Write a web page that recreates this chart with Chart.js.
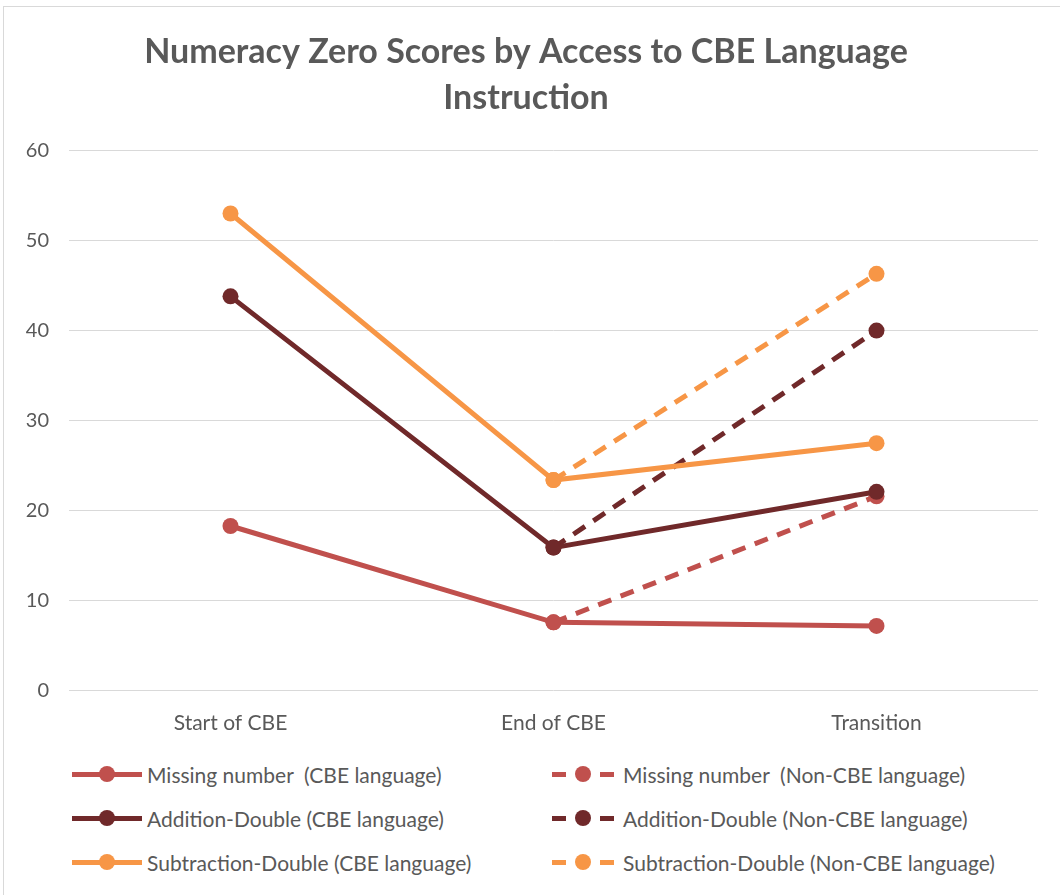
<!DOCTYPE html>
<html>
<head>
<meta charset="utf-8">
<script src="https://cdn.jsdelivr.net/npm/chart.js@4"></script>
<style>
  body { margin: 0; background: #fff; font-family: Lato, "Open Sans", sans-serif; }
  #frame { position: absolute; left: 3px; top: 6px; width: 1060px; height: 900px; border: 1px solid #d9d9d9; }
  #wrap { position: absolute; left: 0; top: 0; width: 1057px; height: 755px; }
  #legend { position: absolute; left: 0; top: 0; }
  .item { position: absolute; height: 24px; display: flex; align-items: center; color: #595959; font-size: 21px; white-space: pre; }
  .sample { position: relative; width: 70px; height: 24px; margin-right: 5px; }
  .seg { position: absolute; top: 10px; height: 5px; }
  .dot { position: absolute; left: 27px; top: 4px; width: 16px; height: 16px; border-radius: 50%; }
</style>
</head>
<body>
<div id="frame">
  <div id="wrap"><canvas id="chart"></canvas></div>
  <div id="legend"></div>
</div>
<script>
console.log("chart loaded");

const categories = ["Start of CBE", "End of CBE", "Transition"];
const missingCbe = [18.3, 7.6, 7.2];
const missingNonCbe = [null, 7.6, 21.6];
const additionCbe = [43.8, 15.9, 22.1];
const additionNonCbe = [null, 15.9, 40.0];
const subtractionCbe = [53.0, 23.4, 27.5];
const subtractionNonCbe = [null, 23.4, 46.3];
const yTicks = [0, 10, 20, 30, 40, 50, 60];

const textColor = "#595959";
const gridColor = "#d9d9d9";

function getColorHex(name) {
    const map = {
        missing: "#C0504D",
        addition: "#70292A",
        subtraction: "#F79646"
    };
    return map[name] || "#cccccc";
}

function makeSeries(label, values, color, dashed) {
    return {
        label: label,
        data: values,
        borderColor: color,
        backgroundColor: color,
        borderWidth: 5,
        borderDash: dashed ? [14, 10] : [],
        pointRadius: 8,
        pointHoverRadius: 8,
        pointBorderWidth: 0,
        pointBackgroundColor: color,
        spanGaps: false,
        tension: 0,
        order: dashed ? 2 : 1,
        dashed: dashed
    };
}

const datasets = [
    makeSeries("Missing number  (CBE language)", missingCbe, getColorHex("missing"), false),
    makeSeries("Missing number  (Non-CBE language)", missingNonCbe, getColorHex("missing"), true),
    makeSeries("Addition-Double (CBE language)", additionCbe, getColorHex("addition"), false),
    makeSeries("Addition-Double (Non-CBE language)", additionNonCbe, getColorHex("addition"), true),
    makeSeries("Subtraction-Double (CBE language)", subtractionCbe, getColorHex("subtraction"), false),
    makeSeries("Subtraction-Double (Non-CBE language)", subtractionNonCbe, getColorHex("subtraction"), true)
];

const ctx = document.getElementById("chart");
const chart = new Chart(ctx, {
    type: "line",
    data: {
        labels: categories,
        datasets: datasets
    },
    options: {
        responsive: true,
        maintainAspectRatio: false,
        animation: false,
        layout: {
            padding: { left: 10, right: 23, top: 0, bottom: 14 }
        },
        plugins: {
            legend: { display: false },
            tooltip: { enabled: false },
            title: {
                display: true,
                text: ["Numeracy Zero Scores by Access to CBE Language", "Instruction"],
                color: textColor,
                font: { family: "Lato", size: 34, weight: "bold", lineHeight: 1.36 },
                padding: { top: 22, bottom: 29 }
            }
        },
        scales: {
            x: {
                offset: true,
                grid: { display: false, offset: true },
                border: { display: false },
                ticks: {
                    color: textColor,
                    padding: 12,
                    font: { family: "Lato", size: 21 }
                }
            },
            y: {
                min: 0,
                max: 60,
                afterFit: (s) => { s.width = 55; },
                afterBuildTicks: (s) => { s.ticks = yTicks.map(v => ({ value: v })); },
                grid: { color: gridColor, lineWidth: 1, drawTicks: false },
                border: { display: false },
                ticks: {
                    color: textColor,
                    padding: 20,
                    font: { family: "Lato", size: 20 }
                }
            }
        }
    }
});

// html legend, two columns like the original
const legendEl = document.getElementById("legend");
const colX = [68, 544];
const rowY = [755, 799, 843];
chart.data.datasets.forEach((ds, idx) => {
    const item = document.createElement("div");
    item.className = "item";
    item.style.left = colX[idx % 2] + "px";
    item.style.top = rowY[Math.floor(idx / 2)] + "px";
    const sample = document.createElement("div");
    sample.className = "sample";
    if (ds.dashed) {
        [[4, 14], [52, 14]].forEach(([l, w]) => {
            const seg = document.createElement("div");
            seg.className = "seg";
            seg.style.left = l + "px";
            seg.style.width = w + "px";
            seg.style.background = ds.borderColor;
            sample.appendChild(seg);
        });
    } else {
        const seg = document.createElement("div");
        seg.className = "seg";
        seg.style.left = "0px";
        seg.style.width = "70px";
        seg.style.background = ds.borderColor;
        sample.appendChild(seg);
    }
    const dot = document.createElement("div");
    dot.className = "dot";
    dot.style.background = ds.borderColor;
    sample.appendChild(dot);
    item.appendChild(sample);
    const span = document.createElement("span");
    span.textContent = ds.label;
    item.appendChild(span);
    legendEl.appendChild(item);
});
</script>
</body>
</html>
